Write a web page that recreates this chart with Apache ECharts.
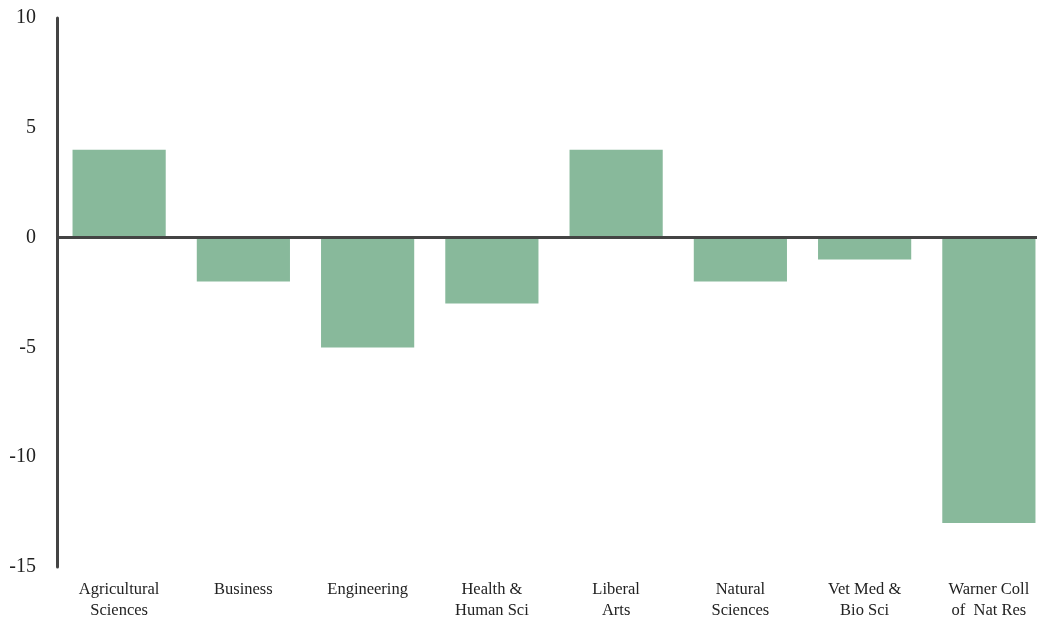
<!DOCTYPE html>
<html><head><meta charset="utf-8">
<script src="https://cdn.jsdelivr.net/npm/echarts@6/dist/echarts.min.js"></script>
<style>html,body{margin:0;padding:0;background:#fff;overflow:hidden}#c{width:1051px;height:621px}</style>
</head><body><div id="c"></div>
<script>
var categories = ["Agricultural\nSciences","Business","Engineering","Health &\nHuman Sci","Liberal\nArts","Natural\nSciences","Vet Med &\nBio Sci","Warner Coll\nof  Nat Res"];
var values = [4,-2,-5,-3,4,-2,-1,-13];
var yTicks = {min:-15,max:10,interval:5};
var chart = echarts.init(document.getElementById('c'));
chart.setOption({
  animation:false,
  grid:{left:57,right:0,top:18,bottom:54,containLabel:false},
  xAxis:{type:'category',data:categories,
    axisLine:{show:false,onZero:false},axisTick:{show:false},
    axisLabel:{interval:0,margin:12,color:'#222',fontFamily:'Liberation Serif',fontSize:16.5,lineHeight:21}},
  yAxis:{type:'value',min:yTicks.min,max:yTicks.max,interval:yTicks.interval,
    splitLine:{show:false},axisTick:{show:false},
    axisLine:{show:true,lineStyle:{color:'#444',width:3}},
    axisLabel:{margin:21,color:'#222',fontFamily:'Liberation Serif',fontSize:20}},
  series:[{type:'bar',data:values,barCategoryGap:'25%',itemStyle:{color:'#88b99b'},
    markLine:{silent:true,symbol:'none',label:{show:false},
      lineStyle:{color:'#444',width:3,type:'solid'},data:[{yAxis:0}]}}]
});
</script></body></html>
